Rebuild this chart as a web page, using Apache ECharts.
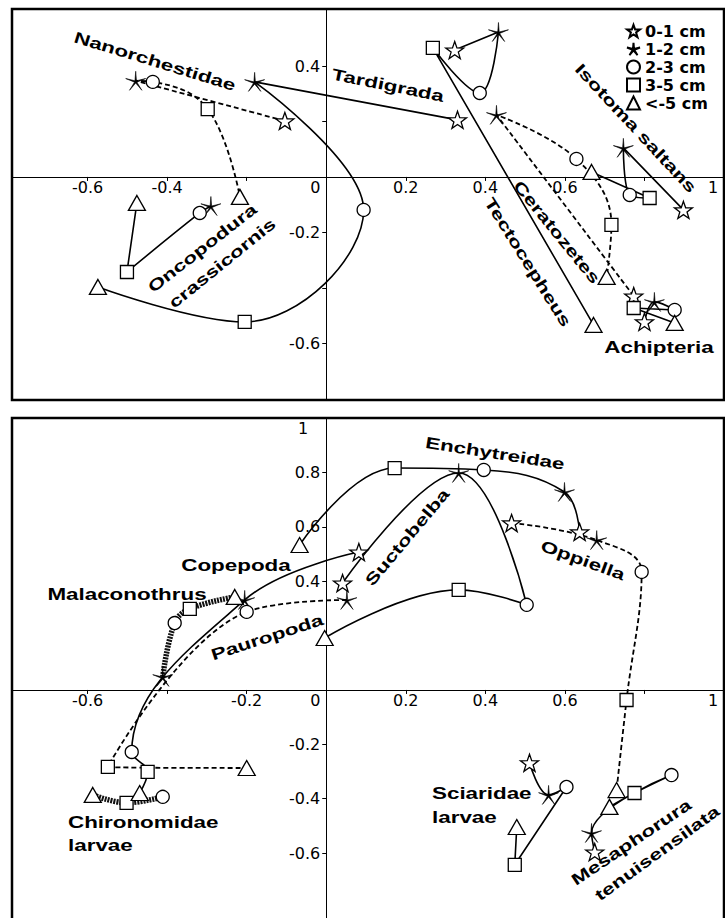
<!DOCTYPE html>
<html><head><meta charset="utf-8">
<script src="https://cdn.jsdelivr.net/npm/echarts@6/dist/echarts.min.js"></script>
<style>html,body{margin:0;padding:0;background:#fff;overflow:hidden}#c{width:725px;height:918px}</style>
</head><body><div id="c"></div>
<script>
// depth classes (legend)
const depths = ['0-1 cm', '1-2 cm', '2-3 cm', '3-5 cm', '<-5 cm'];

// each taxon: positions for [0-1, 1-2, 2-3, 3-5, <-5 cm]; null = not present
// upper panel
const nanorchestidae = [[-0.104, 0.202], [-0.479, 0.347], [-0.436, 0.343], [-0.298, 0.245], [-0.217, -0.072]];
const tardigrada     = [[0.330, 0.206], [-0.180, 0.343], [0.094, -0.119], [-0.205, -0.523], [-0.574, -0.397]];
const oncopodura     = [null, [-0.290, -0.105], [-0.318, -0.130], [-0.501, -0.343], [-0.476, -0.094]];
const tectocepheus   = [[0.323, 0.458], [0.433, 0.523], [0.386, 0.303], [0.268, 0.466], [0.672, -0.534]];
const ceratozetes    = [[0.773, -0.430], [0.428, 0.224], [0.629, 0.065], [0.717, -0.173], [0.705, -0.361]];
const isotoma        = [[0.898, -0.119], [0.747, 0.105], [0.763, -0.065], [0.813, -0.076], [0.667, 0.018]];
const achipteria     = [[0.800, -0.523], [0.825, -0.451], [0.876, -0.480], [0.773, -0.473], [0.876, -0.527]];
// lower panel
const enchytreidae   = [[0.637, 0.581], [0.599, 0.728], [0.396, 0.809], [0.172, 0.816], [-0.067, 0.533]];
const suctobelba     = [[0.041, 0.393], [0.333, 0.798], [0.504, 0.313], [0.333, 0.368], [-0.004, 0.191]];
const copepoda       = [[0.082, 0.507], [-0.205, 0.331], [-0.489, -0.228], [-0.449, -0.301], [-0.469, -0.379]];
const malaconothrus  = [null, [-0.411, 0.048], [-0.381, 0.246], [-0.343, 0.298], [-0.230, 0.342]];
const pauropoda      = [null, [0.052, 0.331], [-0.200, 0.287], [-0.549, -0.283], [-0.200, -0.287]];
const chironomidae   = [null, null, [-0.411, -0.393], [-0.502, -0.415], [-0.587, -0.386]];
const oppiella       = [[0.466, 0.614], [0.680, 0.551], [0.793, 0.434], [0.755, -0.037], [0.730, -0.368]];
const sciaridae      = [[0.511, -0.268], [0.559, -0.386], [0.604, -0.357], [0.474, -0.643], [0.479, -0.504]];
const mesaphorura    = [[0.675, -0.596], [0.667, -0.526], [0.868, -0.313], [0.775, -0.379], [0.712, -0.430]];

// axis ranges, tick values and tick labels
const xRange      = [-0.79, 1];
const topYRange   = [-0.805, 0.606];
const botYRange   = [-0.857, 1];
const xTicks      = [-0.6, -0.4, -0.2, 0.2, 0.4, 0.6, 0.8, 1];
const topXLabels  = [-0.6, -0.4, 0, 0.2, 0.4, 0.6, 1];
const topYTicks   = [-0.6, -0.4, -0.2, 0.2, 0.4];
const topYLabels  = [-0.6, -0.2, 0.4];
const botXLabels  = [-0.6, -0.2, 0, 0.2, 0.4, 0.6, 1];
const botYTicks   = [-0.6, -0.4, -0.2, 0.2, 0.4, 0.6, 0.8];
const botYLabels  = [-0.6, -0.4, -0.2, 0.4, 0.6, 0.8, 1];

// ---------- styling / layout ----------
const topTaxa = [nanorchestidae, tardigrada, oncopodura, tectocepheus, ceratozetes, isotoma, achipteria];
const topKinds = ['dash', 'solid', 'solid', 'solid', 'dash', 'solid', 'solid'];
const botTaxa = [enchytreidae, suctobelba, copepoda, malaconothrus, pauropoda, chironomidae, oppiella, sciaridae, mesaphorura];
const botKinds = ['solid', 'solid', 'solid', 'hatch', 'dash', 'hatch', 'dash', 'solid', 'solid'];

const gridBoxes = [
  {left: 12, top: 9, width: 712, height: 391},
  {left: 12, top: 418, width: 712, height: 505}
];

const lineKinds = {
  solid: {color: '#000', width: 1.6, type: 'solid'},
  dash:  {color: '#000', width: 1.8, type: [5, 3]},
  hatch: {color: '#111', width: 5.5, type: [2, 1]}
};
const STAR = 'path://M10,0L12.35,6.76L19.51,6.91L13.8,11.24L15.88,18.09L10,14L4.12,18.09L6.2,11.24L0.49,6.91L7.65,6.76Z';
const AST  = 'path://M10,0L10.71,9.03L19.51,6.91L11.14,10.37L15.88,18.09L10,11.2L4.12,18.09L8.86,10.37L0.49,6.91L9.29,9.03Z';
const depthSymbols = [STAR, AST, 'circle', 'rect', 'triangle'];
const depthSizes = [18, 20, 13, 13, [17, 15]];

const labelFont = 'bold 16px "Liberation Sans", Arial, sans-serif';
const labelLayout = [
  {t: 'Nanorchestidae', x: 155, y: 61, r: -17},
  {t: 'Tardigrada', x: 388, y: 85, r: -11.5},
  {t: 'Oncopodura', x: 202, y: 248, r: 38},
  {t: 'crassicornis', x: 222, y: 263, r: 39},
  {t: 'Tectocepheus', x: 528, y: 262, r: -58},
  {t: 'Ceratozetes', x: 557, y: 232, r: -51},
  {t: 'Isotoma saltans', x: 636, y: 128, r: -47},
  {t: 'Achipteria', x: 659, y: 347, r: 0},
  {t: 'Enchytreidae', x: 495, y: 453, r: -9},
  {t: 'Suctobelba', x: 407, y: 537, r: 50},
  {t: 'Copepoda', x: 236, y: 565, r: 0},
  {t: 'Oppiella', x: 583, y: 560, r: -20},
  {t: 'Malaconothrus', x: 127, y: 594, r: 0},
  {t: 'Pauropoda', x: 267, y: 637, r: 18},
  {t: 'Chironomidae', x: 68, y: 822, r: 0, a: 'left'},
  {t: 'larvae', x: 68, y: 845, r: 0, a: 'left'},
  {t: 'Sciaridae', x: 432, y: 793, r: 0, a: 'left'},
  {t: 'larvae', x: 432, y: 817, r: 0, a: 'left'},
  {t: 'Mesaphorura', x: 631, y: 842, r: 34},
  {t: 'tenuisensilata', x: 657, y: 853, r: 36}
];

const tickFont = {fontFamily: '"DejaVu Sans", sans-serif', fontSize: 16, color: '#000'};
function fmt(v) { return String(+(+v).toFixed(2)); }

// axes are drawn through the origin by shifting them from the grid edge
function xAxisFor(gi, labels, yr) {
  const box = gridBoxes[gi];
  const off = box.height * (0 - yr[0]) / (yr[1] - yr[0]);
  return {
    gridIndex: gi, type: 'value', min: xRange[0], max: xRange[1], position: 'bottom', offset: -off,
    axisLine: {onZero: false, lineStyle: {color: '#000', width: 1}},
    axisTick: {show: true, customValues: xTicks, length: 4, lineStyle: {color: '#000', width: 1}},
    axisLabel: Object.assign({
      customValues: labels, margin: 3,
      formatter: v => (+v === 0 ? '{z|0}' : (+v === 1 ? '{e|1}' : fmt(v))),
      rich: {z: Object.assign({padding: [0, 22, 0, 0]}, tickFont), e: Object.assign({padding: [0, 22, 0, 0]}, tickFont)}
    }, tickFont),
    splitLine: {show: false}
  };
}
function yAxisFor(gi, yr, ticks, labels) {
  const box = gridBoxes[gi];
  const off = box.width * (0 - xRange[0]) / (xRange[1] - xRange[0]);
  return {
    gridIndex: gi, type: 'value', min: yr[0], max: yr[1], position: 'left', offset: -off,
    axisLine: {onZero: false, lineStyle: {color: '#000', width: 1}},
    axisTick: {show: true, customValues: ticks, length: 4, lineStyle: {color: '#000', width: 1}},
    axisLabel: Object.assign({
      customValues: labels, margin: 6,
      formatter: v => (+v === 1 ? '{t|1}' : fmt(v)),
      rich: {t: Object.assign({padding: [20, 12, 0, 0]}, tickFont)}
    }, tickFont),
    splitLine: {show: false}
  };
}

const series = [];
function addPanel(taxa, kinds, gi) {
  taxa.forEach((pts, i) => {
    series.push({
      type: 'line', xAxisIndex: gi, yAxisIndex: gi,
      data: pts.filter(p => p), showSymbol: false, symbol: 'none',
      smooth: 0.4, lineStyle: lineKinds[kinds[i]], z: 2, silent: true
    });
  });
}
function addMarkers(taxa, gi) {
  depths.forEach((name, d) => {
    const filled = d === 1;
    series.push({
      type: 'scatter', name: name, xAxisIndex: gi, yAxisIndex: gi,
      data: taxa.map(t => t[d]).filter(p => p),
      symbol: depthSymbols[d], symbolSize: depthSizes[d], symbolKeepAspect: true,
      itemStyle: {color: filled ? '#000' : '#fff', borderColor: '#000', borderWidth: filled ? 0.6 : 1.3, opacity: 1},
      z: 5, silent: true
    });
  });
}
addPanel(topTaxa, topKinds, 0);
addPanel(botTaxa, botKinds, 1);
addMarkers(topTaxa, 0);
addMarkers(botTaxa, 1);

const chart = echarts.init(document.getElementById('c'), null, {renderer: 'svg'});
chart.setOption({
  animation: false,
  backgroundColor: '#fff',
  grid: gridBoxes.map(b => Object.assign({show: true, borderColor: '#000', borderWidth: 2.5, containLabel: false, outerBoundsMode: 'none'}, b)),
  xAxis: [xAxisFor(0, topXLabels, topYRange), xAxisFor(1, botXLabels, botYRange)],
  yAxis: [yAxisFor(0, topYRange, topYTicks, topYLabels), yAxisFor(1, botYRange, botYTicks, botYLabels)],
  legend: {
    data: depths, orient: 'vertical', left: 621, top: 18,
    itemWidth: 13, itemHeight: 13, itemGap: 2, selectedMode: false,
    textStyle: {fontFamily: '"DejaVu Sans", sans-serif', fontWeight: 'bold', fontSize: 16, color: '#000', lineHeight: 15}
  },
  graphic: {
    elements: labelLayout.map(l => ({
      type: 'text', x: l.x, y: l.y, rotation: l.r * Math.PI / 180, scaleX: 1.4, z: 100, silent: true,
      style: {text: l.t, font: labelFont, fill: '#000', align: l.a || 'center', verticalAlign: 'middle'}
    }))
  },
  series: series
});
</script>
</body></html>
